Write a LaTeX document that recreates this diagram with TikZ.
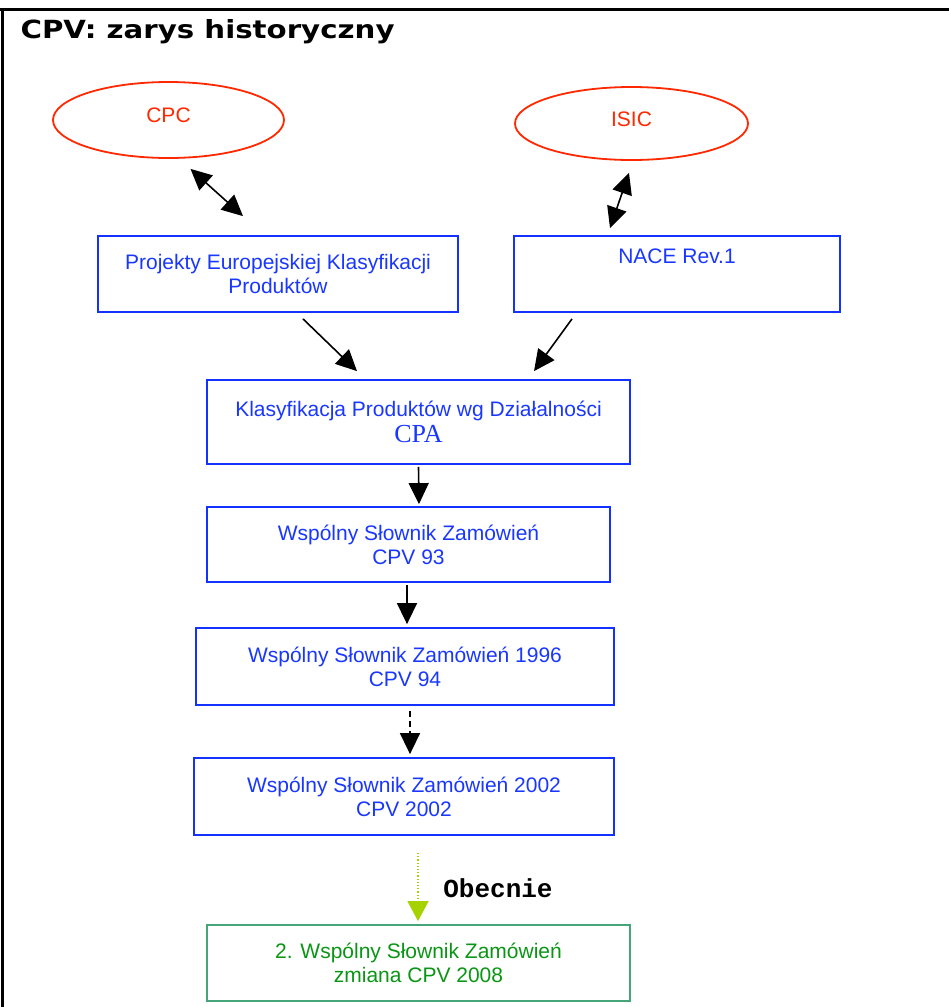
\documentclass[tikz,border=0pt]{standalone}
\usepackage{fontspec}
\setmainfont{Liberation Sans}
\newfontfamily\titlefont[FakeStretch=1.17]{DejaVu Sans}
\newfontfamily\cpamono{Liberation Mono}
\newfontfamily\cpaserif{Liberation Serif}
\usetikzlibrary{shapes.geometric,arrows.meta}
\definecolor{bxblue}{RGB}{20,50,255}
\definecolor{txblue}{RGB}{25,55,255}
\definecolor{elred}{RGB}{255,40,0}
\definecolor{gbord}{RGB}{70,165,120}
\definecolor{gtext}{RGB}{10,150,20}
\definecolor{ygreen}{RGB}{165,210,0}
\begin{document}
\begin{tikzpicture}[x=1pt,y=-1pt,
  boxn/.style={draw=bxblue,line width=1.8pt,text=txblue,align=center,
    font=\fontsize{21}{24}\selectfont,inner sep=0pt},
  elln/.style={draw=elred,ellipse,line width=1.8pt,text=elred,inner sep=0pt,
    font=\fontsize{21}{25}\selectfont},
  conn/.style={line width=1.6pt,-{Triangle[length=21pt,width=20pt]}},
  dconn/.style={line width=1.6pt,{Triangle[length=21pt,width=20pt]}-{Triangle[length=21pt,width=20pt]}}]
\useasboundingbox (0,0) rectangle (949,1007);
\fill[white] (0,0) rectangle (949,1007);
% frame
\draw[line width=3pt] (0,9.5) -- (949,9.5);
\draw[line width=3pt] (2,9.5) -- (2,1007);
\node[anchor=base west,font=\titlefont\bfseries\fontsize{25}{30}\selectfont] (title) at (17,38) {CPV: zarys historyczny};
% ellipses
\node[elln,minimum width=231pt,minimum height=76pt] (cpc) at (168.5,120) {\raisebox{9pt}{CPC}};
\node[elln,minimum width=233pt,minimum height=73pt] (isic) at (631.5,123.5) {\raisebox{9pt}{ISIC}};
% boxes
\node[boxn,minimum width=360pt,minimum height=76pt] (b1) at (278,274) {Projekty Europejskiej Klasyfikacji\\Produktów};
\node[boxn,minimum width=326pt,minimum height=76pt] (b2) at (677,274) {NACE Rev.1\\[4pt]\strut};
\node[boxn,minimum width=423pt,minimum height=84pt] (b3) at (418.5,422) {Klasyfikacja Produktów wg Działalności\\[2pt]{\cpaserif\fontsize{26}{26}\selectfont CPA}};
\node[boxn,minimum width=403pt,minimum height=75pt] (b4) at (408.5,544.5) {Wspólny Słownik Zamówień\\CPV 93};
\node[boxn,minimum width=418pt,minimum height=77pt] (b5) at (405,666.5) {Wspólny Słownik Zamówień 1996\\CPV 94};
\node[boxn,minimum width=420pt,minimum height=77pt] (b6) at (404,796.5) {Wspólny Słownik Zamówień 2002\\CPV 2002};
\node[boxn,draw=gbord,text=gtext,minimum width=423pt,minimum height=76pt] (b7) at (418.5,963) {2. Wspólny Słownik Zamówień\\zmiana CPV 2008};
\node[font=\cpamono\bfseries\fontsize{26}{26}\selectfont] (obecnie) at (498,888) {Obecnie};
% connectors
\draw[dconn] ([xshift=22pt,yshift=-10pt]cpc.south) -- ([xshift=-35pt,yshift=19pt]b1.north);
\draw[dconn] ([xshift=-2.5pt,yshift=-12pt]isic.south) -- ([xshift=-67pt,yshift=7pt]b2.north);
\draw[conn] ([xshift=25pt,yshift=-6pt]b1.south) -- ([xshift=-61.5pt,yshift=8pt]b3.north);
\draw[conn] ([xshift=-105pt,yshift=-6pt]b2.south) -- ([xshift=115.5pt,yshift=8pt]b3.north);
\draw[conn,shorten >=2pt] ([yshift=-2pt]b3.south) -- ([xshift=0.5pt]b3.south |- b4.north);
\draw[conn,shorten >=3pt] ([xshift=-1.5pt,yshift=-2pt]b4.south) -- ([xshift=-1.5pt]b4.south |- b5.north);
\draw[conn,dash pattern=on 6pt off 4pt,shorten >=3pt] ([xshift=5pt,yshift=-5pt]b5.south) -- ([xshift=5pt]b5.south |- b6.north);
\draw[line width=1.2pt,draw=ygreen,dotted,-{Triangle[length=20pt,width=21pt]},shorten >=3pt] ([xshift=14pt,yshift=-17pt]b6.south) -- ([xshift=14pt]b6.south |- b7.north);
\end{tikzpicture}
\end{document}
